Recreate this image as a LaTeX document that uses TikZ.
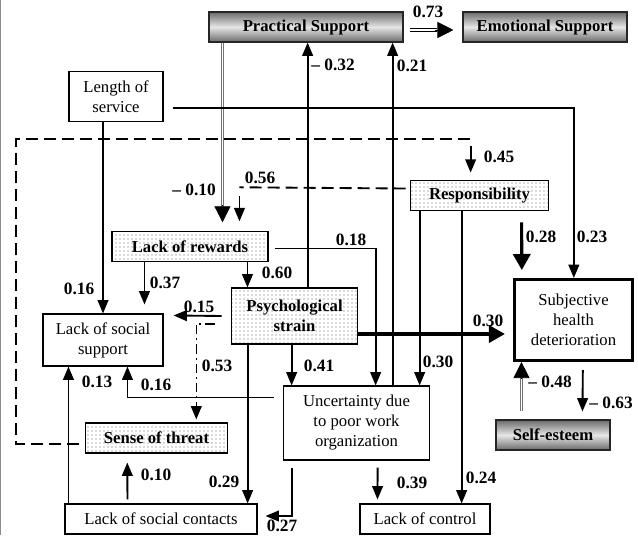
\documentclass[tikz,border=0pt]{standalone}
\usepackage{fontspec}
\setmainfont{Liberation Serif}
\usepackage{tikz}
\usetikzlibrary{arrows.meta, positioning, calc, patterns}
\definecolor{shadedark}{HTML}{6A6A6A}
\definecolor{shadelight}{HTML}{E6E6E6}
\definecolor{dotgray}{HTML}{606060}

\begin{document}
\begin{tikzpicture}[
  x=0.75pt, y=-0.75pt,
  every node/.style={font=\fontsize{12.5}{15}\selectfont, align=center, inner sep=0pt},
  plain box/.style={draw, line width=0.8pt, fill=white},
  dot box/.style={draw, line width=0.8pt, preaction={fill=white}, pattern=dots, pattern color=dotgray, font=\fontsize{12.5}{15}\selectfont\bfseries},
  shade box/.style={draw=black!85, line width=0.8pt, top color=shadedark, bottom color=shadedark, middle color=shadelight, font=\fontsize{12.5}{15}\selectfont\bfseries},
  outcome box/.style={draw, line width=2.3pt, fill=white},
  coef/.style={font=\fontsize{13}{14}\selectfont\bfseries},
  link/.style={line width=1.4pt, -{Triangle[length=10pt, width=8pt]}},
  heavy link/.style={line width=2.3pt, -{Triangle[length=12pt, width=13pt]}},
  dash link/.style={line width=1.4pt, dash pattern=on 9pt off 4.5pt},
  dashdot link/.style={line width=1.2pt, dash pattern=on 7pt off 3pt on 1.5pt off 3pt, -{Triangle[length=10pt, width=8pt]}},
  dbl link/.style={draw=black!55, line width=0.7pt, double=white, double distance=1pt},
  big tip/.style={line width=0.5pt, -{Triangle[length=12pt, width=12pt]}}
]
\useasboundingbox (0,0) rectangle (638,535);
\draw[black!45, line width=1pt] (0.5,0) -- (0.5,535);

\node[shade box, minimum width=145.5pt, minimum height=22.5pt] (prac) at (306,27) {Practical Support};
\node[shade box, minimum width=123pt, minimum height=22.5pt] (emot) at (545,27) {Emotional Support};
\node[plain box, minimum width=70.5pt, minimum height=38pt] (los) at (116,96.5) {Length of\\service};
\node[dot box, minimum width=104pt, minimum height=23pt] (resp) at (479.5,195.5) {Responsibility};
\node[dot box, minimum width=117pt, minimum height=22pt] (rew) at (190,246.5) {Lack of rewards};
\node[dot box, minimum width=95pt, minimum height=42pt] (strain) at (294.5,316) {Psychological\\strain};
\node[plain box, minimum width=90pt, minimum height=39pt] (lss) at (103,340) {Lack of social\\support};
\node[outcome box, minimum width=88.7pt, minimum height=60.7pt] (shd) at (573.5,320) {Subjective\\health\\deterioration};
\node[shade box, minimum width=85.5pt, minimum height=22.5pt] (self) at (553,435) {Self-esteem};
\node[plain box, minimum width=110pt, minimum height=55.5pt] (unc) at (356.5,423) {Uncertainty due\\to poor work\\organization};
\node[dot box, minimum width=106pt, minimum height=22.5pt] (threat) at (156.5,438) {Sense of threat};
\node[plain box, minimum width=144pt, minimum height=22.5pt] (lsc) at (161,519) {Lack of social contacts};
\node[plain box, minimum width=97.5pt, minimum height=22.5pt] (ctrl) at (425,519) {Lack of control};

\node[coef] (k073) at (428,12) {0.73};
\node[coef] (kneg032) at (333,65) {– 0.32};
\node[coef] (k021) at (412,66) {0.21};
\node[coef] (k045) at (499,157) {0.45};
\node[coef] (kneg010) at (194,190) {– 0.10};
\node[coef] (k056) at (260,178) {0.56};
\node[coef] (k028) at (541,237) {0.28};
\node[coef] (k023) at (592,237) {0.23};
\node[coef] (k018) at (351,240) {0.18};
\node[coef] (k060) at (277,273) {0.60};
\node[coef] (k037) at (165,283) {0.37};
\node[coef] (k016a) at (79,289) {0.16};
\node[coef] (k015) at (199,307) {0.15};
\node[coef] (k030a) at (488,321) {0.30};
\node[coef] (k053) at (217,366) {0.53};
\node[coef] (k041) at (319,366) {0.41};
\node[coef] (k030b) at (438,362) {0.30};
\node[coef] (k013) at (97,382) {0.13};
\node[coef] (k016b) at (156,385) {0.16};
\node[coef] (kneg048) at (550,382) {– 0.48};
\node[coef] (kneg063) at (611,403) {– 0.63};
\node[coef] (k010) at (156,475) {0.10};
\node[coef] (k029) at (224,482) {0.29};
\node[coef] (k039) at (412,483) {0.39};
\node[coef] (k024) at (481,478) {0.24};
\node[coef] (k027) at (282,525.5) {0.27};

\draw[dbl link] ($(prac.south west)+(14,0)$) coordinate (p1) -- ($(p1 |- rew.north)+(0,-24)$);
\draw[big tip] ($(p1 |- rew.north)+(0,-26)$) -- ($(p1 |- rew.north)+(0,-9)$);
\draw[link] ($(strain.north west)+(77,0)$) coordinate (p2) -- (p2 |- prac.south);
\draw[link] ($(unc.north west)+(110,0)$) coordinate (p3) -- (p3 |- prac.south);
\draw[link] ($(los.south east)+(9,-14)$) -| ($(shd.north west)+(61,0)$);
\draw[link] (los.south -| lss.north) -- (lss.north);

\coordinate (turn45) at ($(resp.north west)+(61,-41)$);
\draw[dash link] ($(threat.west)+(-6,6)$) -- ++(-63,0) |- (turn45);
\draw[link] ($(turn45)+(0,7)$) -- ($(resp.north west)+(61,-7)$);
\coordinate (turn56) at ($(rew.north west)+(128,-44)$);
\draw[dash link] ($(resp.west)+(-4,-7)$) -- (turn56);
\draw[link] ($(turn56)+(0,9)$) -- ($(rew.north west)+(128,-10)$);

\draw[heavy link] ($(resp.south west)+(112,11)$) -- ($(shd.north west)+(9,-8)$);
\draw[link] ($(resp.south west)+(10,0)$) coordinate (p9) -- (p9 |- unc.north);
\draw[link] ($(resp.south west)+(52,0)$) coordinate (p10) -- (p10 |- ctrl.north);
\draw[link] ($(rew.east)+(6,2)$) -| ($(unc.north west)+(93,0)$);
\draw[link] ($(rew.south west)+(33,0)$) coordinate (p12) -- ($(p12 |- lss.north)+(0,-9)$);
\draw[link] ($(rew.south west)+(136,0)$) coordinate (p13) -- (p13 |- strain.north);

\draw[link] ($(strain.west)+(-9,0)$) -- ($(lss.north east)+(10,2)$);
\draw[dashdot link] ($(strain.west)+(-16,8)$) -| ($(threat.north west)+(111,-3)$);
\draw[heavy link] ($(strain.east)+(0,18)$) -- ($(shd.west)+(-8,14)$);
\draw[link] ($(strain.south west)+(61,0)$) coordinate (p17) -- (p17 |- unc.north);
\draw[link] ($(strain.south west)+(17,0)$) coordinate (p18) -- (p18 |- lsc.north);

\draw[link] ($(unc.north west)+(-9,12)$) -| ($(lss.south west)+(85,0)$);
\draw[link] ($(unc.south west)+(9,7)$) |- ($(lsc.east)+(8,-3)$);
\draw[link] ($(unc.south west)+(95,7)$) -- ($(ctrl.north west)+(18,-4)$);
\draw[link] ($(lsc.north west)+(4,0)$) coordinate (p22) -- (p22 |- lss.south);
\draw[link] ($(lsc.north west)+(63,-4)$) -- ($(threat.south west)+(42,9)$);

\draw[dbl link] ($(self.north west)+(26,-8)$) coordinate (p24) -- ($(p24 |- shd.south)+(0,15)$);
\draw[big tip] ($(p24 |- shd.south)+(0,17)$) -- (p24 |- shd.south);
\draw[link] ($(shd.south west)+(70,8)$) -- ($(self.north west)+(87,-8)$);
\draw[dbl link, draw=black, double distance=1.5pt] ($(prac.east)+(6,3)$) -- ($(emot.west)+(-25,3)$);
\draw[big tip] ($(emot.west)+(-27,3)$) -- ($(emot.west)+(-9,3)$);
\end{tikzpicture}
\end{document}
